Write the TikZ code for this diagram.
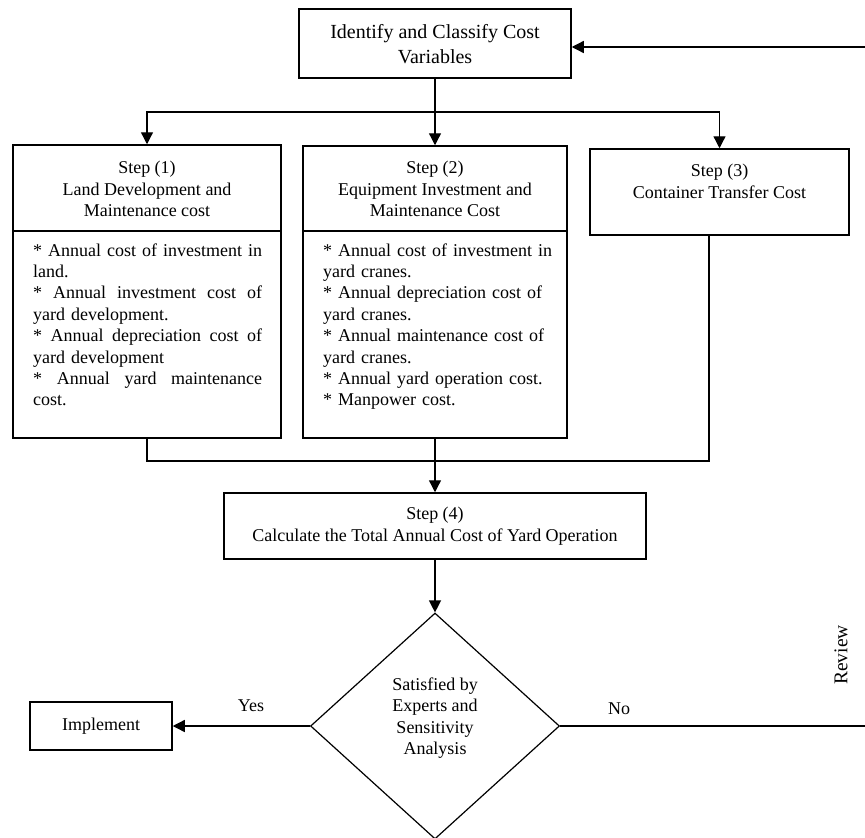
\documentclass[tikz,border=0pt]{standalone}
\usepackage{fontspec}
\setmainfont{Liberation Serif}
\usetikzlibrary{shapes.geometric,arrows.meta,calc}
\newcommand{\jline}[1]{\leavevmode\hbox to 229pt{\spaceskip=0.25em plus 3em\relax #1}}
\begin{document}
\begin{tikzpicture}[x=1pt,y=-1pt,
  box/.style={draw,line width=1.5pt,inner sep=0pt},
  txt/.style={font=\fontsize{18}{21.4}\selectfont,align=center,inner sep=0pt},
  bodytxt/.style={font=\fontsize{18}{21.4}\selectfont,text width=230pt,align=left,inner sep=0pt,anchor=base west},
  conn/.style={line width=1.3pt},
  arr/.style={conn,-{Triangle[length=12pt,width=12pt]}},
]
\useasboundingbox (0,0) rectangle (865,838);

% top box
\node[box,minimum width=272pt,minimum height=69pt] (top) at (435,43.5) {};
\node[txt,font=\fontsize{20}{24.5}\selectfont] (toptxt) at (435,44) {Identify and Classify Cost\\Variables};

% step boxes
\node[box,minimum width=268pt,minimum height=293pt] (s1) at (147,291.5) {};
\node[box,minimum width=264pt,minimum height=292pt] (s2) at (435,292) {};
\node[box,minimum width=259pt,minimum height=86pt] (s3) at (719.5,192) {};
\draw[line width=1.5pt] (s1.west |- 0,231) -- (s1.east |- 0,231);
\draw[line width=1.5pt] (s2.west |- 0,231) -- (s2.east |- 0,231);

\node[txt] (h1) at (147,189) {Step (1)\\Land Development and\\Maintenance cost};
\node[txt] (h2) at (435,189) {Step (2)\\Equipment Investment and\\Maintenance Cost};
\node[txt] (h3) at (719.5,181.5) {Step (3)\\Container Transfer Cost};

\node[bodytxt] (b1) at (33,256) {%
\jline{{*} Annual cost of investment in}\\
land.\\
\jline{{*} Annual investment cost of}\\
yard development.\\
\jline{{*} Annual depreciation cost of}\\
yard development\\
\jline{{*} Annual yard maintenance}\\
cost.};
\node[bodytxt] (b2) at (323,256) {%
{*} Annual cost of investment in\\
yard cranes.\\
{*} Annual depreciation cost of\\
yard cranes.\\
{*} Annual maintenance cost of\\
yard cranes.\\
{*} Annual yard operation cost.\\
{*} Manpower cost.};

% step 4
\node[box,minimum width=422pt,minimum height=66pt] (s4) at (435,526) {};
\node[txt] (s4txt) at (435,526) {Step (4)\\Calculate the Total Annual Cost of Yard Operation};

% decision
\node[draw,diamond,line width=1.2pt,inner sep=0pt,minimum width=249pt,minimum height=226pt] (dia) at (435,726) {};
\node[txt] (diatxt) at (435,718) {Satisfied by\\Experts and\\Sensitivity\\Analysis};

% implement
\node[box,minimum width=142pt,minimum height=48pt] (impl) at (101,726) {};
\node[txt] (impltxt) at (101,726) {Implement};

% labels
\node[txt] (yes) at (251,706) {Yes};
\node[txt] (no) at (619,709) {No};
\node[txt,font=\fontsize{19.5}{22}\selectfont,rotate=90] (rev) at (841,655) {Review};

% connectors
\coordinate (br) at ($(top.south)!0.5!(s2.north)$);
\draw[arr] (top.south) -- (s2.north);
\draw[arr] (br) -| (s1.north);
\draw[arr] (br) -| (s3.north);

\coordinate (jn) at (435,461);
\draw[conn] (s1.south) |- (jn);
\draw[conn] ([xshift=-10.5pt]s3.south) |- (jn);
\draw[arr] (s2.south) -- (s4.north);
\draw[arr] (s4.south) -- (dia.north);
\draw[arr] (dia.west) -- (impl.east);

\coordinate (fbB) at (865,726);
\coordinate (fbT) at (865,47);
\draw[conn] (dia.east) -- (fbB);
\draw[arr] (fbT) -- (fbT -| top.east);
\end{tikzpicture}
\end{document}
